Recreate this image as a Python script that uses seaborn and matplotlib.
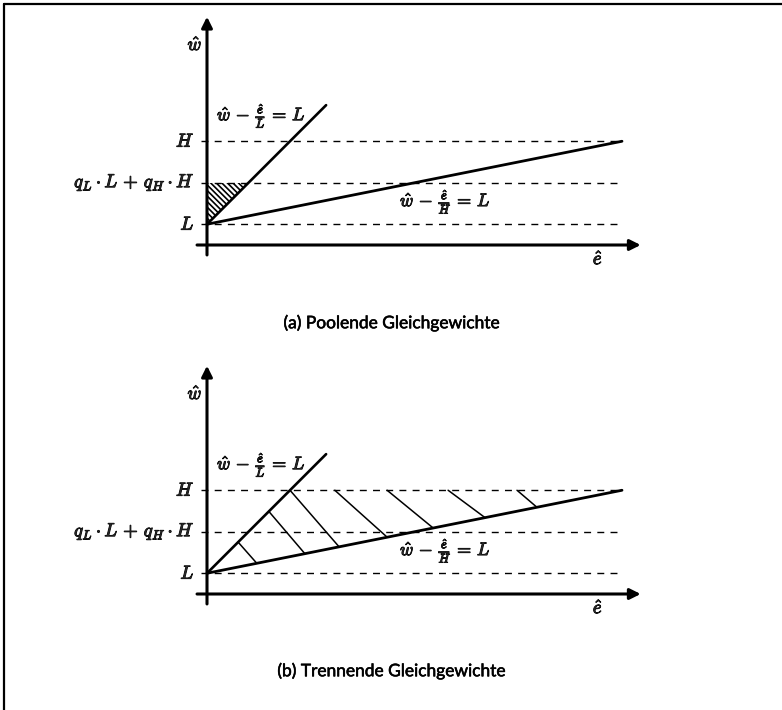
import matplotlib
matplotlib.use("Agg")
import matplotlib.pyplot as plt
import matplotlib.patheffects as pe
from matplotlib.lines import Line2D
import seaborn as sns

# levels on the w axis: L, q_L*L + q_H*H, H
level_w = [0.5, 1.5, 2.5]
level_labels = [r"$L$", r"$q_L \cdot L \,+\, q_H \cdot H$", r"$H$"]
dash_end = 10.0

# the two indifference lines
steep_e = [0.0, 2.87]
steep_w = [0.5, 3.37]
flat_e = [0.0, 10.0]
flat_w = [0.5, 2.5]

# (a) pooling region: between w axis, steep line and q_L*L + q_H*H
pool_e = [0.0, 0.0, 1.0]
pool_w = [0.5, 1.5, 1.5]

# (b) separating region, hand drawn hatch strokes
sep_e0 = [0.75, 1.49, 2.0, 3.08, 4.34, 5.81, 7.47]
sep_w0 = [1.25, 1.99, 2.5, 2.5, 2.5, 2.5, 2.5]
sep_e1 = [1.2, 2.36, 3.18, 4.34, 5.45, 6.7, 7.95]
sep_w1 = [0.74, 0.97, 1.14, 1.37, 1.59, 1.84, 2.09]

captions = ["(a) Poolende Gleichgewichte", "(b) Trennende Gleichgewichte"]

W, H = 782, 710
unit = 41.5      # pixels per data unit
x0 = 207         # pixel column of the w axis
origins = [245, 594]  # pixel row of the e axis in each panel

sns.set_style("white")
plt.rcParams["mathtext.fontset"] = "cm"
plt.rcParams["hatch.linewidth"] = 1.2
bold = [pe.withStroke(linewidth=0.7, foreground="black")]

fig = plt.figure(figsize=(W / 100, H / 100), dpi=100)

for i, oy in enumerate(origins):
    top_px, bot_px = i * H / 2, (i + 1) * H / 2
    ax = fig.add_axes([0, 1 - bot_px / H, 1, 0.5])
    ax.set_xlim(-x0 / unit, (W - x0) / unit)
    ax.set_ylim((oy - bot_px) / unit, (oy - top_px) / unit)
    ax.axis("off")

    # axes with arrows
    ax.annotate("", xy=(10.45, 0), xytext=(-0.24, 0),
                arrowprops=dict(arrowstyle="-|>", lw=2.2, color="black", mutation_scale=16,
                                shrinkA=0, shrinkB=0))
    ax.annotate("", xy=(0, 5.5), xytext=(0, -0.24),
                arrowprops=dict(arrowstyle="-|>", lw=2.2, color="black", mutation_scale=16,
                                shrinkA=0, shrinkB=0))

    # dashed levels and labels
    for w, lab in zip(level_w, level_labels):
        ax.plot([-0.15, dash_end], [w, w], color="black", lw=1.0, dashes=(5, 4.5))
        ax.text(-0.3, w, lab, ha="right", va="center", fontsize=13.5, path_effects=bold)

    sns.lineplot(x=steep_e, y=steep_w, ax=ax, color="black", lw=1.9)
    sns.lineplot(x=flat_e, y=flat_w, ax=ax, color="black", lw=2.0)

    if i == 0:
        ax.fill(pool_e, pool_w, facecolor="none", edgecolor="black", lw=0, hatch="\\" * 6)
    else:
        for a, b, c, d in zip(sep_e0, sep_w0, sep_e1, sep_w1):
            ax.plot([a, c], [b, d], color="black", lw=1.1)

    ax.text(-0.29, 4.83, r"$\hat{w}$", ha="center", va="center", fontsize=13.5, path_effects=bold)
    ax.text(9.42, -0.33, r"$\hat{e}$", ha="center", va="center", fontsize=13.5, path_effects=bold)
    ax.text(0.24, 3.1, r"$\hat{w} \,-\, \frac{\hat{e}}{L} \,=\, L$", ha="left", va="center",
            fontsize=13, path_effects=bold)
    ax.text(4.65, 1.03, r"$\hat{w} \,-\, \frac{\hat{e}}{H} \,=\, L$", ha="left", va="center",
            fontsize=13, path_effects=bold)

    fig.text(392 / W, 1 - (323 + i * 348) / H, captions[i], ha="center", va="center",
             fontsize=12.5, family="Lato", color="black",
             path_effects=[pe.withStroke(linewidth=0.4, foreground="black")])

# scanned frame: top and left rules only
fig.add_artist(Line2D([4 / W, 4 / W], [0, 1 - 4 / H], color="black", lw=1.6,
                      transform=fig.transFigure))
fig.add_artist(Line2D([4 / W, 1], [1 - 4 / H, 1 - 4 / H], color="black", lw=1.6,
                      transform=fig.transFigure))

fig.savefig("out.png", dpi=100)
